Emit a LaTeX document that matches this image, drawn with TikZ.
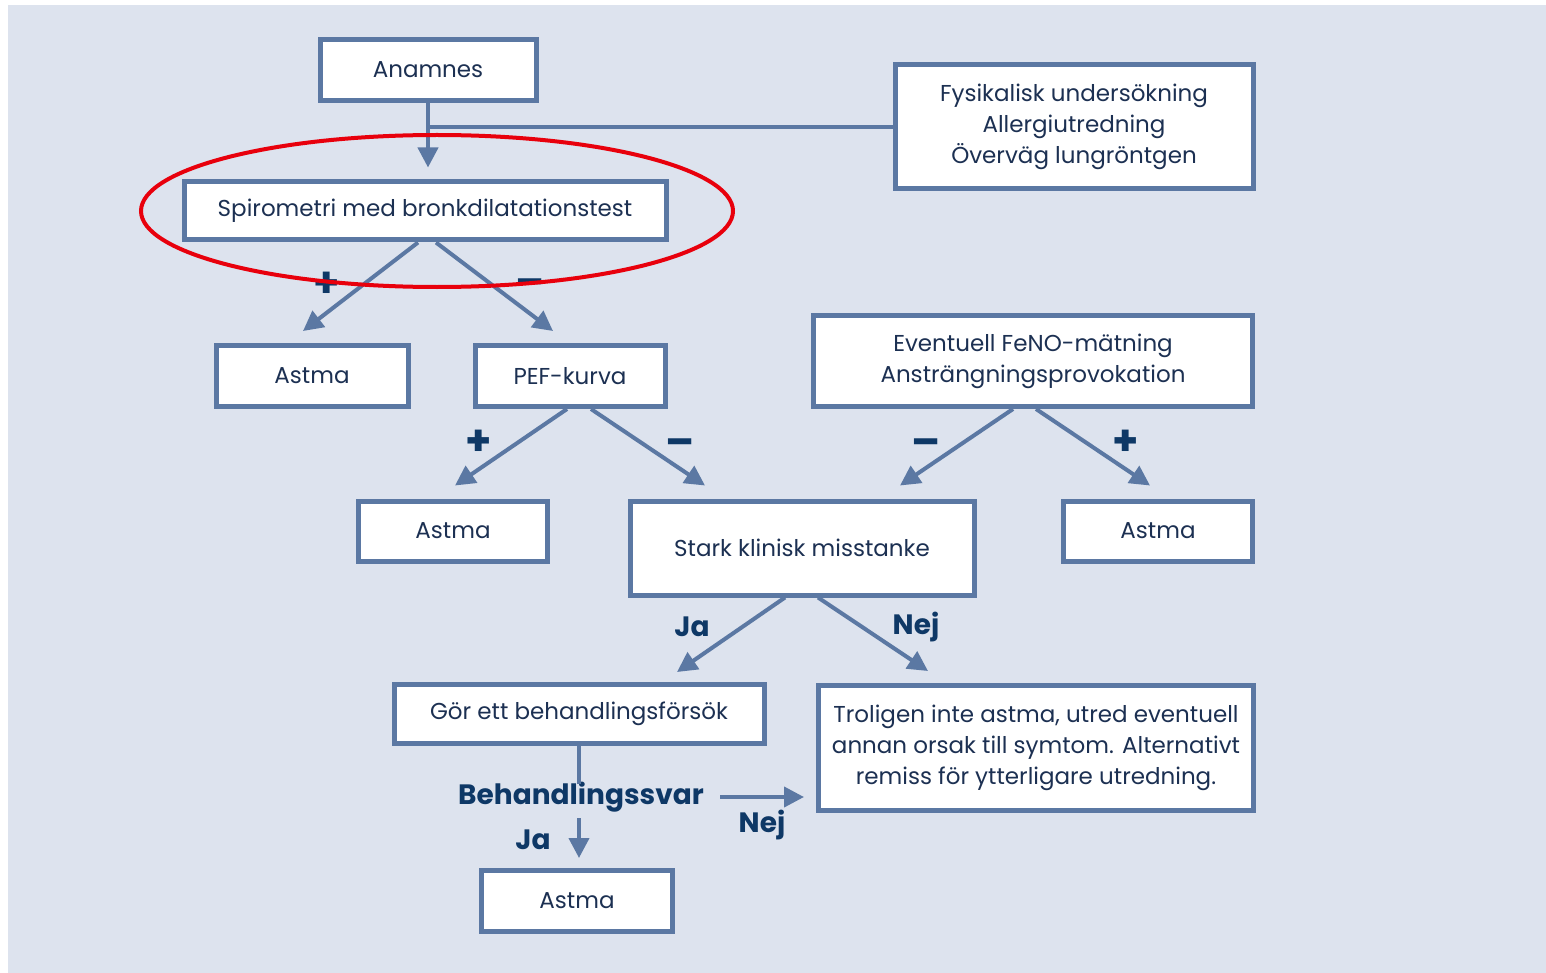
\documentclass[tikz,border=0pt]{standalone}
\usepackage{fontspec}
\setmainfont{Poppins}
\usepackage{xcolor}
\usepackage{tikz}
\usetikzlibrary{arrows.meta, positioning, calc}
\definecolor{panelgrey}{RGB}{221,227,238}
\definecolor{boxblue}{RGB}{91,120,163}
\definecolor{textnavy}{RGB}{28,48,82}
\definecolor{labelnavy}{RGB}{14,56,102}
\definecolor{ringred}{RGB}{232,0,12}

\tikzset{
  stepbox/.style={draw=boxblue, line width=2.5pt, fill=white, text=textnavy,
    align=center, inner sep=0pt, font=\fontsize{11.5}{15.5}\selectfont},
  flow/.style={draw=boxblue, line width=2pt, -{Triangle[length=10pt,width=10pt]}},
  link/.style={draw=boxblue, line width=2pt},
  answer/.style={text=labelnavy, inner sep=1pt, font=\fontsize{14}{16}\selectfont\bfseries},
  sign/.style={text=labelnavy, inner sep=1pt, font=\fontsize{21}{22}\selectfont\bfseries},
}

\begin{document}
\begin{tikzpicture}[x=0.5pt, y=-0.5pt]
    % panel
    \fill[white] (0,0) rectangle (1546,973);
    \fill[panelgrey] (8,5) rectangle (1546,973);

    % boxes
    \node[stepbox, minimum width=108pt, minimum height=30.5pt] (anamnes) at (428,70) {Anamnes};
    \node[stepbox, minimum width=241pt, minimum height=29pt] (spiro) at (425,211) {Spirometri med bronkdilatationstest};
    \node[stepbox, minimum width=179pt, minimum height=62pt] (fysik) at (1074,127) {Fysikalisk undersökning\\Allergiutredning\\Överväg lungröntgen};
    \node[stepbox, minimum width=96pt, minimum height=30.5pt] (astmaA) at (312,376) {Astma};
    \node[stepbox, minimum width=95pt, minimum height=30.5pt] (pef) at (570,376) {PEF-kurva};
    \node[stepbox, minimum width=219.5pt, minimum height=45.5pt] (feno) at (1033,361) {Eventuell FeNO-mätning\\Ansträngningsprovokation};
    \node[stepbox, minimum width=94.5pt, minimum height=30pt] (astmaB) at (453,531) {Astma};
    \node[stepbox, minimum width=172pt, minimum height=47pt] (stark) at (802,548) {Stark klinisk misstanke};
    \node[stepbox, minimum width=94.5pt, minimum height=30pt] (astmaC) at (1158,531) {Astma};
    \node[stepbox, minimum width=185pt, minimum height=29.5pt] (gor) at (579,714) {Gör ett behandlingsförsök};
    \node[stepbox, minimum width=217.5pt, minimum height=62.5pt] (trolig) at (1036,748) {Troligen inte astma, utred eventuell\\annan orsak till symtom. Alternativt\\remiss för ytterligare utredning.};
    \node[stepbox, minimum width=95.5pt, minimum height=30.5pt] (astmaD) at (577,901) {Astma};
    \node[answer, font=\fontsize{14}{16}\selectfont\bfseries] (svar) at (581,797) {Behandlingssvar};

    % connectors
    \draw[link] (anamnes.south) |- (fysik.west);
    \draw[flow, shorten >=6pt] (anamnes.south) -- (anamnes.south |- spiro.north);
    \draw[flow] ([xshift=-3.5pt]spiro.south) -- ([xshift=-4.5pt,yshift=6pt]astmaA.north);
    \draw[flow] ([xshift=5.5pt]spiro.south) -- ([xshift=-8.5pt,yshift=6pt]pef.north);
    \draw[flow] ([xshift=-1.5pt]pef.south) -- ([xshift=1pt,yshift=6.5pt]astmaB.north);
    \draw[flow] ([xshift=10.5pt]pef.south) -- ([xshift=-48.5pt,yshift=6.5pt]stark.north);
    \draw[flow] ([xshift=-10pt]feno.south) -- ([xshift=49pt,yshift=6.5pt]stark.north);
    \draw[flow] ([xshift=1.5pt]feno.south) -- ([xshift=-4pt,yshift=6.5pt]astmaC.north);
    \draw[flow] ([xshift=-8.5pt]stark.south) -- ([xshift=49pt,yshift=5pt]gor.north);
    \draw[flow] ([xshift=8pt]stark.south) -- ([xshift=-54pt,yshift=6pt]trolig.north);
    \draw[link] (gor.south) -- ([yshift=-2pt]gor.south |- svar.north);
    \draw[flow, shorten >=5pt] ([yshift=-2pt]gor.south |- svar.south) -- (gor.south |- astmaD.north);
    \draw[flow, shorten >=6pt] ([xshift=7pt]svar.east) -- (svar.east -| trolig.west);

    % answers
    \node[sign] (plusA) at (327,285) {+};
    \node[sign] (minusA) at (530,288) {–};
    \node[sign] (plusB) at (479,443) {+};
    \node[sign] (minusB) at (680,448) {–};
    \node[sign] (minusC) at (926,448) {–};
    \node[sign] (plusC) at (1126,443) {+};
    \node[answer] (jaA) at (692,627) {Ja};
    \node[answer] (nejA) at (916,627) {Nej};
    \node[answer] (jaB) at (533,840) {Ja};
    \node[answer] (nejB) at (762,825) {Nej};

    % red ring
    \draw[ringred, line width=2pt] (437,211) ellipse [x radius=148pt, y radius=38pt];
\end{tikzpicture}
\end{document}
